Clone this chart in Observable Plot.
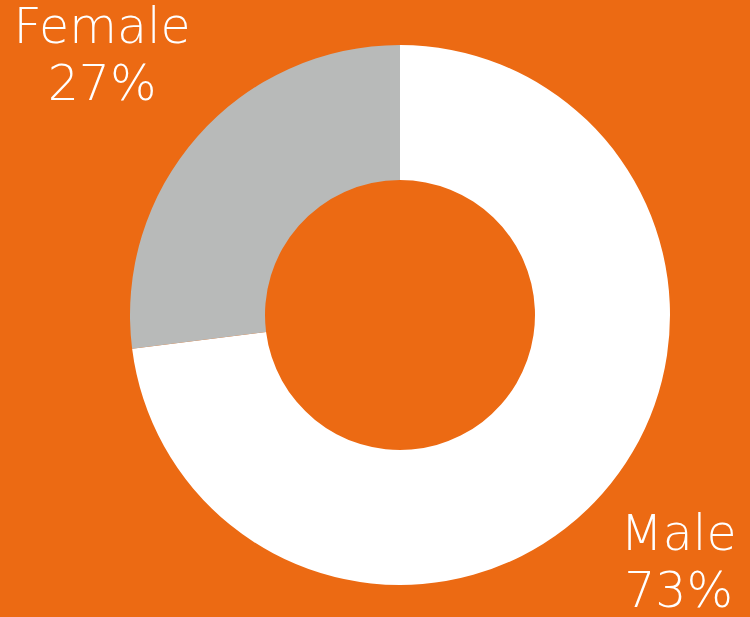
<!DOCTYPE html>
<html>
<head>
<meta charset="utf-8">
<script src="https://cdn.jsdelivr.net/npm/d3@7"></script>
<script src="https://cdn.jsdelivr.net/npm/@observablehq/plot@0.6"></script>
<style>
  html, body { margin: 0; padding: 0; background: #EC6A13; }
  #chart svg { display: block; }
</style>
</head>
<body>
<div id="chart"></div>
<script>
const categories = ["Male", "Female"];
const values = [73, 27];
const labels = ["Male\n73%", "Female\n27%"];
const colors = ["#FFFFFF", "#B8BAB9"];

const data = categories.map((c, i) => ({category: c, value: values[i], label: labels[i], color: colors[i]}));
const arcs = d3.pie().sort(null).value(d => d.value)(data);

// label anchors in donut units (radius = 1)
const labelPos = {Male: [1.03, -0.907], Female: [-1.105, 0.97]};
const labelData = data.map(d => ({...d, lx: labelPos[d.category][0], ly: labelPos[d.category][1]}));

const donut = (index, scales, values, dimensions) => {
  const cx = scales.x(0), cy = scales.y(0);
  const r = scales.x(1) - scales.x(0);
  const g = d3.create("svg:g");
  const arcGen = d3.arc().innerRadius(r * 0.5).outerRadius(r);
  g.selectAll("path").data(arcs).join("path")
    .attr("transform", `translate(${cx},${cy})`)
    .attr("d", arcGen)
    .attr("fill", d => d.data.color);
  return g.node();
};

const chart = Plot.plot({
  width: 750,
  height: 617,
  margin: 0,
  x: {domain: [-400/270, 350/270], range: [0, 750], axis: null},
  y: {domain: [-302/270, 315/270], range: [617, 0], axis: null},
  style: {background: "#EC6A13", fontFamily: "'DejaVu Sans', sans-serif"},
  marks: [
    donut,
    Plot.text(labelData, {
      x: "lx", y: "ly", text: "label",
      fill: "white", fontSize: 49, fontWeight: 200,
      lineHeight: 1.16, textAnchor: "middle", lineAnchor: "middle"
    })
  ]
});
document.getElementById("chart").append(chart);
</script>
</body>
</html>
